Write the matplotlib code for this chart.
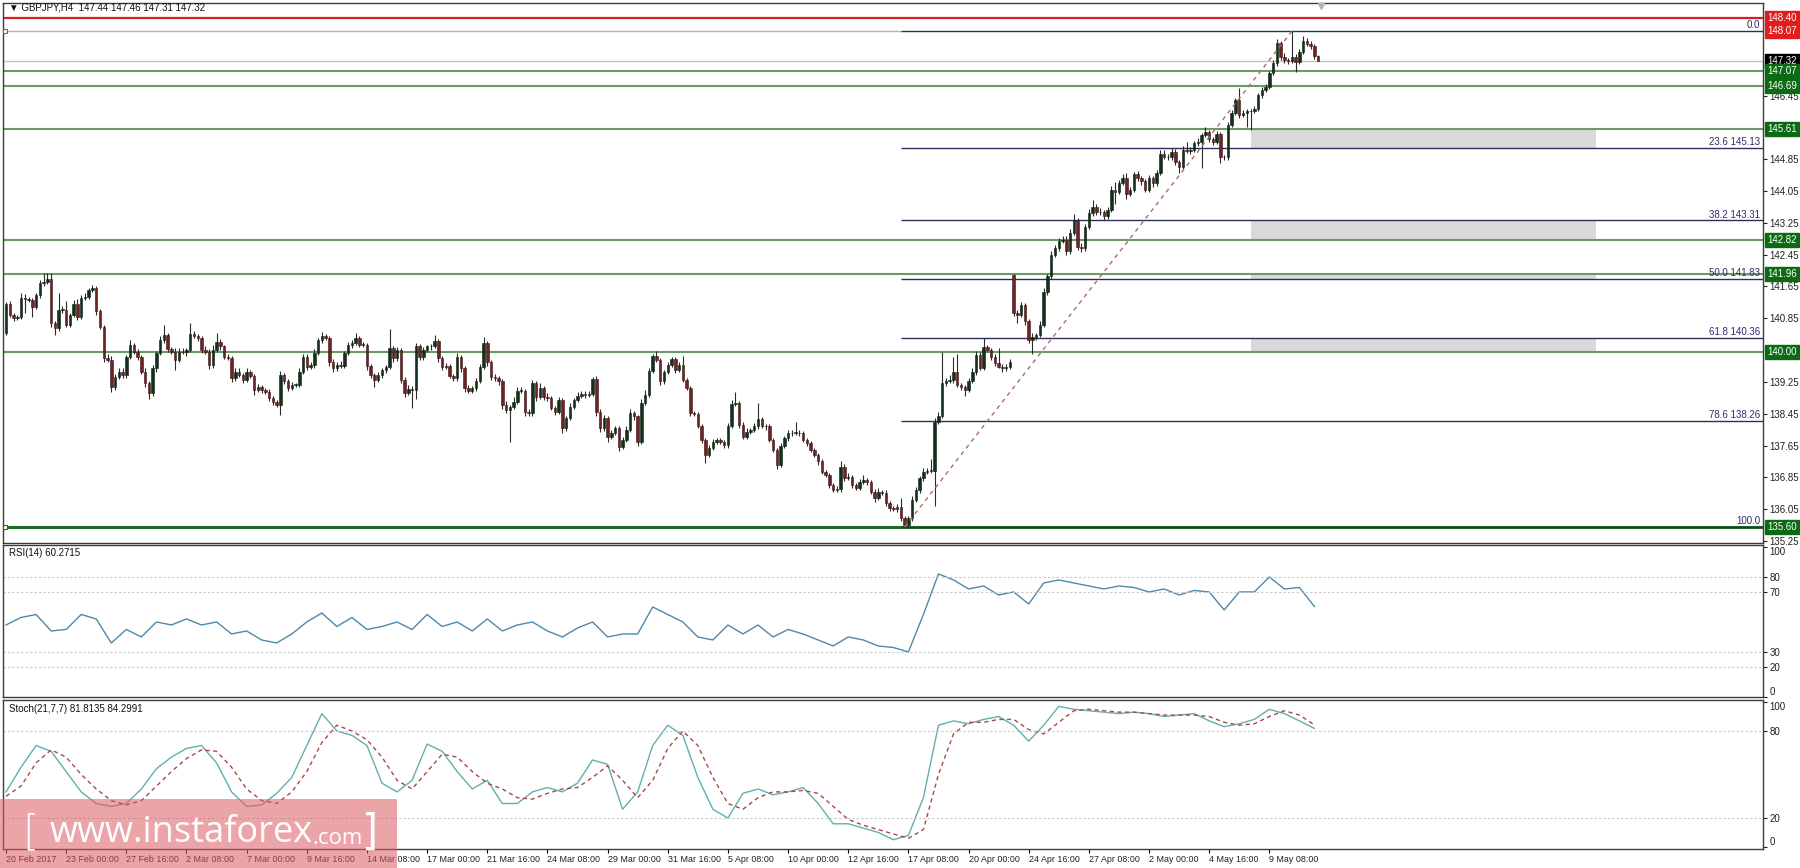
import matplotlib
matplotlib.use("Agg")
import matplotlib.pyplot as plt
from matplotlib.patches import Rectangle

plt.rcParams['font.family'] = ['Liberation Sans', 'DejaVu Sans']

# ---------------- data ----------------
first_open = 140.47
gap_opens = {268: 141.94}   # Monday gap after the weekend

closes = [
    141.22, 140.93, 140.85, 140.89, 141.35, 141.33, 141.31, 141.14, 141.43, 141.73,
    141.77, 141.83, 140.72, 140.60, 141.06, 141.07, 140.68, 140.93, 141.22, 140.89,
    141.35, 141.39, 141.56, 141.60, 141.02, 140.64, 139.84, 139.80, 139.13, 139.38,
    139.51, 139.42, 139.87, 140.18, 140.01, 139.88, 139.51, 139.21, 138.96, 139.59,
    139.97, 140.30, 140.43, 140.07, 140.01, 139.80, 140.01, 139.99, 140.05, 140.45,
    140.40, 140.35, 140.05, 140.01, 139.67, 140.05, 140.26, 140.14, 139.88, 139.84,
    139.34, 139.51, 139.42, 139.30, 139.51, 139.40, 139.05, 139.11, 139.05, 139.00,
    138.84, 138.75, 138.67, 139.42, 139.26, 139.09, 139.17, 139.17, 139.51, 139.88,
    139.63, 139.67, 139.97, 140.30, 140.40, 140.35, 139.76, 139.59, 139.67, 139.65,
    139.97, 140.18, 140.24, 140.35, 140.18, 140.19, 139.65, 139.42, 139.30, 139.42,
    139.55, 139.63, 140.09, 139.84, 140.05, 139.31, 138.96, 139.06, 139.05, 140.14,
    139.87, 140.05, 140.14, 140.15, 140.29, 139.84, 139.63, 139.65, 139.40, 139.34,
    139.87, 139.59, 139.09, 139.03, 139.09, 139.26, 139.63, 140.22, 139.76, 139.38,
    139.34, 139.26, 138.67, 138.54, 138.61, 138.75, 139.03, 139.03, 138.50, 138.46,
    139.21, 138.88, 139.09, 138.88, 138.84, 138.59, 138.50, 138.79, 138.08, 138.33,
    138.63, 138.79, 138.90, 138.95, 138.93, 138.95, 139.33, 138.50, 138.08, 138.33,
    137.87, 137.96, 138.08, 137.62, 137.79, 138.04, 138.46, 138.38, 137.75, 138.71,
    138.92, 139.53, 139.89, 139.80, 139.26, 139.50, 139.68, 139.82, 139.55, 139.68,
    139.30, 139.09, 138.48, 138.44, 138.13, 137.79, 137.41, 137.58, 137.75, 137.79,
    137.75, 137.66, 138.13, 138.70, 138.71, 138.17, 137.87, 138.00, 138.04, 138.13,
    138.31, 138.13, 138.14, 137.79, 137.54, 137.16, 137.64, 137.83, 137.96, 137.97,
    137.97, 137.96, 137.79, 137.71, 137.54, 137.41, 137.25, 136.99, 136.91, 136.66,
    136.53, 136.55, 137.12, 136.83, 136.87, 136.66, 136.58, 136.74, 136.78, 136.74,
    136.49, 136.32, 136.49, 136.46, 136.20, 136.07, 136.05, 136.11, 135.82, 135.65,
    135.82, 136.28, 136.53, 136.83, 136.99, 137.02, 137.01, 138.25, 138.39, 139.21,
    139.26, 139.30, 139.51, 139.17, 139.13, 139.05, 139.26, 139.51, 139.93, 139.60,
    140.13, 140.05, 139.87, 139.72, 139.63, 139.59, 139.62, 139.76, 140.97, 140.93,
    141.18, 140.77, 140.30, 140.39, 140.43, 140.68, 141.52, 141.90, 142.44, 142.61,
    142.80, 142.83, 142.53, 142.99, 143.32, 142.65, 142.61, 143.15, 143.49, 143.66,
    143.53, 143.51, 143.41, 143.57, 144.08, 144.03, 144.24, 144.37, 143.98, 144.08,
    144.48, 144.37, 144.29, 144.08, 144.37, 144.24, 144.49, 144.99, 144.91, 144.90,
    145.04, 144.79, 144.66, 145.08, 145.06, 145.08, 145.25, 145.29, 145.46, 145.54,
    145.35, 145.27, 145.48, 144.91, 144.90, 145.71, 146.02, 146.34, 145.96, 146.00,
    146.05, 146.07, 146.10, 146.46, 146.59, 146.67, 147.01, 147.26, 147.76, 147.43,
    147.34, 147.33, 147.43, 147.30, 147.55, 147.81, 147.75, 147.70, 147.44, 147.32,
]

wick_up = [
    .03, .06, .05, .05, .13, .12, .06, .05, .06, .08,
    .22, .15, .15, .05, .42, .10, .21, .06, .08, .12,
    .08, .10, .06, .08, .07, .06, .05, .12, .10, .06,
    .08, .10, .06, .12, .05, .06, .05, .08, .06, .08,
    .06, .10, .25, .06, .05, .08, .10, .08, .06, .27,
    .08, .06, .05, .10, .06, .12, .21, .06, .05, .08,
    .05, .10, .08, .06, .10, .05, .06, .08, .06, .05,
    .06, .05, .05, .10, .05, .06, .08, .06, .10, .08,
    .06, .08, .10, .06, .11, .06, .05, .06, .08, .10,
    .06, .08, .06, .13, .05, .06, .05, .06, .05, .08,
    .06, .05, .48, .06, .08, .05, .06, .10, .08, .08,
    .06, .08, .05, .06, .14, .05, .06, .08, .05, .06,
    .10, .05, .06, .08, .06, .08, .06, .17, .06, .05,
    .06, .05, .06, .10, .06, .12, .08, .10, .05, .06,
    .10, .05, .12, .06, .08, .05, .06, .08, .05, .06,
    .08, .06, .10, .08, .06, .08, .05, .06, .06, .10,
    .05, .08, .06, .06, .08, .10, .12, .06, .05, .10,
    .12, .06, .06, .13, .05, .06, .08, .06, .05, .08,
    .23, .05, .06, .05, .06, .05, .06, .08, .06, .05,
    .06, .05, .08, .10, .29, .05, .06, .08, .06, .08,
    .40, .05, .06, .05, .06, .05, .08, .06, .08, .06,
    .28, .06, .05, .06, .05, .06, .05, .06, .05, .06,
    .05, .08, .15, .06, .10, .05, .06, .08, .12, .06,
    .05, .06, .08, .05, .06, .05, .06, .08, .21, .05,
    .06, .10, .08, .06, .10, .06, .29, .08, .10, .80,
    .08, .13, .36, .44, .06, .05, .08, .10, .10, .06,
    .23, .06, .05, .08, .38, .06, .08, .06, .02, .10,
    .08, .06, .05, .08, .06, .10, .08, .06, .10, .08,
    .06, .10, .08, .10, .14, .06, .08, .08, .10, .17,
    .06, .08, .06, .08, .10, .20, .08, .11, .13, .08,
    .06, .08, .06, .05, .08, .06, .08, .08, .10, .06,
    .08, .06, .05, .10, .21, .08, .06, .08, .06, .13,
    .05, .06, .08, .06, .05, .08, .06, .06, .29, .08,
    .06, .05, .08, .06, .08, .06, .06, .08, .10, .06,
    .08, .06, .64, .06, .08, .13, .08, .06, .05, .02,
]

wick_dn = [
    .03, .06, .08, .05, .05, .35, .06, .25, .05, .06,
    .06, .05, .08, .17, .06, .08, .06, .05, .06, .08,
    .06, .05, .06, .05, .08, .06, .10, .06, .13, .08,
    .05, .06, .08, .05, .06, .08, .06, .10, .13, .06,
    .08, .05, .06, .08, .06, .25, .06, .05, .08, .06,
    .05, .06, .08, .05, .10, .06, .05, .08, .06, .05,
    .10, .06, .05, .08, .06, .05, .13, .06, .08, .05,
    .06, .08, .06, .25, .06, .08, .05, .06, .05, .06,
    .08, .05, .06, .05, .06, .05, .10, .08, .06, .05,
    .06, .05, .08, .05, .06, .05, .10, .06, .18, .05,
    .06, .08, .05, .10, .06, .10, .08, .05, .45, .23,
    .08, .06, .05, .08, .06, .10, .08, .06, .05, .08,
    .06, .08, .10, .06, .05, .06, .05, .06, .10, .08,
    .06, .08, .10, .06, .80, .05, .06, .05, .10, .08,
    .06, .10, .05, .08, .06, .05, .08, .06, .12, .06,
    .05, .06, .05, .06, .08, .05, .06, .10, .08, .06,
    .12, .06, .05, .10, .06, .05, .06, .08, .10, .06,
    .05, .06, .05, .06, .10, .06, .05, .06, .08, .05,
    .06, .05, .10, .06, .05, .08, .21, .06, .05, .06,
    .05, .08, .06, .05, .06, .08, .06, .05, .06, .05,
    .06, .05, .08, .06, .05, .10, .06, .05, .06, .08,
    .05, .06, .05, .08, .06, .05, .08, .06, .05, .08,
    .06, .05, .08, .06, .05, .08, .06, .05, .06, .08,
    .06, .08, .05, .06, .08, .06, .05, .06, .08, .04,
    .05, .06, .05, .08, .06, .05, .06, .88, .06, .05,
    .06, .05, .08, .06, .08, .15, .06, .05, .08, .06,
    .06, .05, .08, .06, .04, .08, .06, .05, .06, .21,
    .06, .08, .06, .34, .08, .06, .05, .08, .06, .05,
    .06, .05, .08, .06, .05, .08, .10, .06, .05, .06,
    .08, .06, .08, .06, .05, .30, .06, .05, .13, .06,
    .05, .06, .08, .06, .05, .08, .06, .05, .06, .08,
    .06, .08, .17, .05, .06, .08, .05, .06, .67, .06,
    .08, .06, .05, .15, .08, .06, .05, .06, .08, .06,
    .34, .46, .06, .05, .06, .05, .06, .05, .06, .08,
    .06, .08, .05, .25, .06, .05, .06, .08, .06, .01,
]

# oscillators, one reading every 4th bar
osc_step = 4
rsi = [48, 53, 55, 44, 45, 55, 52, 36, 45, 40, 50, 48, 52, 48, 50, 42, 44, 38, 36, 42,
       50, 56, 47, 53, 45, 47, 50, 45, 55, 47, 50, 44, 52, 44, 48, 50, 44, 40, 46, 50,
       40, 42, 42, 60, 55, 50, 40, 38, 48, 42, 48, 40, 45, 42, 38, 34, 40, 38, 34, 33,
       30, 55, 82, 78, 72, 74, 68, 70, 62, 76, 78, 76, 74, 72, 74, 73, 70, 72, 68, 71,
       70, 58, 70, 70, 80, 72, 73, 60.27]
stoch_main = [38, 55, 70, 66, 52, 38, 30, 28, 30, 40, 54, 62, 68, 70, 58, 38, 28, 29, 37, 48,
              70, 92, 80, 77, 70, 44, 38, 46, 71, 66, 52, 40, 46, 30, 30, 38, 41, 38, 44, 60,
              57, 26, 38, 70, 84, 77, 48, 26, 20, 37, 40, 36, 38, 41, 30, 16, 16, 13, 10, 5,
              8, 34, 84, 87, 85, 88, 90, 84, 73, 84, 97, 95, 94, 93, 92, 93, 92, 90, 91, 92,
              87, 83, 85, 88, 95, 92, 87, 81.81]
stoch_signal = [35, 42, 58, 67, 62, 50, 40, 32, 29, 32, 42, 52, 61, 67, 66, 55, 40, 32, 30, 38,
                52, 72, 84, 80, 74, 62, 46, 40, 52, 64, 62, 52, 44, 40, 34, 33, 37, 40, 41, 48,
                56, 46, 34, 46, 68, 80, 70, 48, 30, 26, 34, 38, 38, 39, 37, 28, 19, 15, 12, 9,
                6, 12, 50, 78, 86, 86, 88, 88, 81, 78, 86, 94, 95, 94, 93, 93, 92, 91, 91, 91,
                90, 86, 84, 85, 90, 94, 91, 84.30]

date_labels = ["20 Feb 2017", "23 Feb 00:00", "27 Feb 16:00", "2 Mar 08:00", "7 Mar 00:00",
               "9 Mar 16:00", "14 Mar 08:00", "17 Mar 00:00", "21 Mar 16:00", "24 Mar 08:00",
               "29 Mar 00:00", "31 Mar 16:00", "5 Apr 08:00", "10 Apr 00:00", "12 Apr 16:00",
               "17 Apr 08:00", "20 Apr 00:00", "24 Apr 16:00", "27 Apr 08:00", "2 May 00:00",
               "4 May 16:00", "9 May 08:00"]
bars_per_label = 16

green_levels = [147.07, 146.69, 145.61, 142.82, 141.96, 140.00]
base_level = 135.60
resist_level = 148.40
swing_high = 148.07
current_price = 147.32
fib_ratios = ["0.0", "23.6", "38.2", "50.0", "61.8", "78.6", "100.0"]
fib_prices = [148.07, 145.13, 143.31, 141.83, 140.36, 138.26, 135.60]
fib_start_bar = 238
swing_low_bar, swing_high_bar = 239, 342
zones = [(145.13, 145.61), (142.82, 143.31), (141.83, 141.96), (140.00, 140.36)]
zone_bars = (331, 423)

tag_prices = [148.40, 148.07, 147.32, 147.07, 146.69, 145.61, 142.82, 141.96, 140.00, 135.60]
tag_colors = ['#e01c1c', '#e01c1c', '#000000', '#0b6a12', '#0b6a12', '#0b6a12',
              '#0b6a12', '#0b6a12', '#0b6a12', '#0b6a12']
price_ticks = [135.25, 136.05, 136.85, 137.65, 138.45, 139.25, 140.85, 141.65,
               142.45, 143.25, 144.05, 144.85, 146.45]

# ---------------- figure ----------------
W, H = 1800, 868
fig = plt.figure(figsize=(W / 100, H / 100), dpi=100)
fig.patch.set_facecolor('white')

def px_axes(top, bottom):
    return fig.add_axes([3 / W, 1 - bottom / H, 1760 / W, (bottom - top) / H])

ax = px_axes(3, 543)
ax_rsi = px_axes(545, 697)
ax_st = px_axes(700, 849)

n = len(closes)
xs = list(range(n))
xlim = (-0.8, 467.3)
spine_col = '#3c3c3c'

for a in (ax, ax_rsi, ax_st):
    a.set_xlim(*xlim)
    a.yaxis.tick_right()
    a.tick_params(axis='y', labelsize=7, length=3, width=0.8, pad=1.5, colors='#202020')
    a.tick_params(axis='x', bottom=False, labelbottom=False)
    for s in a.spines.values():
        s.set_color(spine_col)
        s.set_linewidth(1.0)

# candles
opens = [first_open] + closes[:-1]
for k, v in gap_opens.items():
    opens[k] = v
highs = [max(o, c) + u for o, c, u in zip(opens, closes, wick_up)]
lows = [min(o, c) - d for o, c, d in zip(opens, closes, wick_dn)]
ax.vlines(xs, lows, highs, color='#2b2b2b', lw=0.8, zorder=3)
bull = [c >= o for o, c in zip(opens, closes)]
body_bottom = [min(o, c) for o, c in zip(opens, closes)]
body_h = [max(abs(c - o), 0.015) for o, c in zip(opens, closes)]
ax.bar(xs, body_h, bottom=body_bottom, width=0.66,
       color=['#15301a' if b else '#6d2424' for b in bull],
       edgecolor=['#0c1f10' if b else '#3c1212' for b in bull], linewidth=0.4, zorder=4)

# levels
ax.axhline(resist_level, color='#d42020', lw=1.6, zorder=2)
ax.hlines(swing_high, xlim[0], fib_start_bar, color='#e89a9a', lw=1.0, zorder=2)
ax.axhline(current_price, color='#c4c4c4', lw=1.0, zorder=2)
for lv in green_levels:
    ax.axhline(lv, color='#6a9a6a', lw=1.5, zorder=2)
ax.axhline(base_level, color='#1f6a25', lw=2.2, zorder=2)
for lo, hi in zones:
    ax.add_patch(Rectangle((zone_bars[0], lo), zone_bars[1] - zone_bars[0], hi - lo,
                           facecolor='#d9d9d9', edgecolor='none', zorder=1))
for r, p in zip(fib_ratios, fib_prices):
    ax.hlines(p, fib_start_bar, xlim[1], color='#2e2e5e', lw=1.0, zorder=2.5)
    txt = r if r in ("0.0", "100.0") else f"{r} {p:.2f}"
    ax.text(0.9985, p + 0.02, txt, transform=ax.get_yaxis_transform(), ha='right', va='bottom',
            fontsize=7, color='#2b2b6b', zorder=6)
ax.plot([swing_low_bar, swing_high_bar], [base_level, swing_high], color='#b06a6a', lw=1.0,
        ls=(0, (3, 3)), zorder=5)
ax.plot([-0.2], [swing_high], marker='s', ms=3, mfc='white', mec='#d04040', mew=0.8,
        clip_on=False, zorder=6)
ax.plot([-0.2], [base_level], marker='s', ms=3, mfc='white', mec='#1f6a25', mew=0.8,
        clip_on=False, zorder=6)
ax.plot([349.7], [148.70], marker='v', ms=5, color='#b4b4b4', clip_on=False, zorder=6)

ax.set_ylim(135.199, 148.777)
ax.set_yticks(price_ticks)
ax.set_yticklabels([f"{t:.2f}" for t in price_ticks])
for p, col in zip(tag_prices, tag_colors):
    ax.text(1.0025, p, f"{p:.2f}", transform=ax.get_yaxis_transform(), fontsize=7,
            color='white', ha='left', va='center', clip_on=False, zorder=10,
            bbox=dict(boxstyle='square,pad=0.2', fc=col, ec=col))
ax.text(0.0035, 0.991, "\u25bc GBPJPY,H4  147.44 147.46 147.31 147.32", transform=ax.transAxes,
        fontsize=7, ha='left', va='center', color='#101010')

# RSI
osc_x = list(range(0, osc_step * len(rsi), osc_step))
ax_rsi.plot(osc_x, rsi, color='#4d89ab', lw=1.0)
for lv in (80, 70, 30, 20):
    ax_rsi.axhline(lv, color='#c8c8c8', lw=0.8, ls=(0, (2, 2)))
ax_rsi.set_ylim(0, 101.3)
rsi_ticks = [100, 80, 70, 30, 20, 0]
ax_rsi.set_yticks(rsi_ticks)
ax_rsi.set_yticklabels([str(t) for t in rsi_ticks])
ax_rsi.text(0.0035, 0.95, "RSI(14) 60.2715", transform=ax_rsi.transAxes, fontsize=7,
            ha='left', va='center', color='#101010')

# Stochastic
ax_st.plot(osc_x, stoch_main, color='#62aeb0', lw=1.0)
ax_st.plot(osc_x, stoch_signal, color='#a8484a', lw=1.0, ls=(0, (3, 2.5)))
for lv in (80, 20):
    ax_st.axhline(lv, color='#c8c8c8', lw=0.8, ls=(0, (2, 2)))
ax_st.set_ylim(-1.4, 101.4)
st_ticks = [100, 80, 20, 0]
ax_st.set_yticks(st_ticks)
ax_st.set_yticklabels([str(t) for t in st_ticks])
ax_st.text(0.0035, 0.94, "Stoch(21,7,7) 81.8135 84.2991", transform=ax_st.transAxes,
           fontsize=7, ha='left', va='center', color='#101010')

# keep the end labels of the oscillator scales inside their own panes
for a, ticks in ((ax_rsi, rsi_ticks), (ax_st, st_ticks)):
    for lab, t in zip(a.get_yticklabels(), ticks):
        if t == 100:
            lab.set_va('top')
        elif t == 0:
            lab.set_va('bottom')

ax_st.set_xticks([k * bars_per_label for k in range(len(date_labels))])
ax_st.set_xticklabels(date_labels, ha='left', fontsize=6.4, color='#202020')
ax_st.tick_params(axis='x', bottom=True, labelbottom=True, length=3, width=0.8, pad=1)

# watermark
fig.patches.append(Rectangle((0, 0), 397 / W, 69 / H, transform=fig.transFigure,
                             facecolor='#dc5a62', alpha=0.55, edgecolor='none', zorder=5))
fig.text(22 / W, 1 - 833 / H, "[", fontsize=30, color='white', va='center', ha='left',
         family='DejaVu Sans', fontweight='light', zorder=6)
fig.text(50 / W, 1 - 833 / H, "www.instaforex", fontsize=26, color='white', va='center',
         ha='left', family='Open Sans', zorder=6)
fig.text(312 / W, 1 - 838 / H, ".com", fontsize=16, color='white', va='center', ha='left',
         family='Open Sans', zorder=6)
fig.text(362 / W, 1 - 833 / H, "]", fontsize=30, color='white', va='center', ha='left',
         family='DejaVu Sans', zorder=6)

fig.savefig("out.png", dpi=100)
